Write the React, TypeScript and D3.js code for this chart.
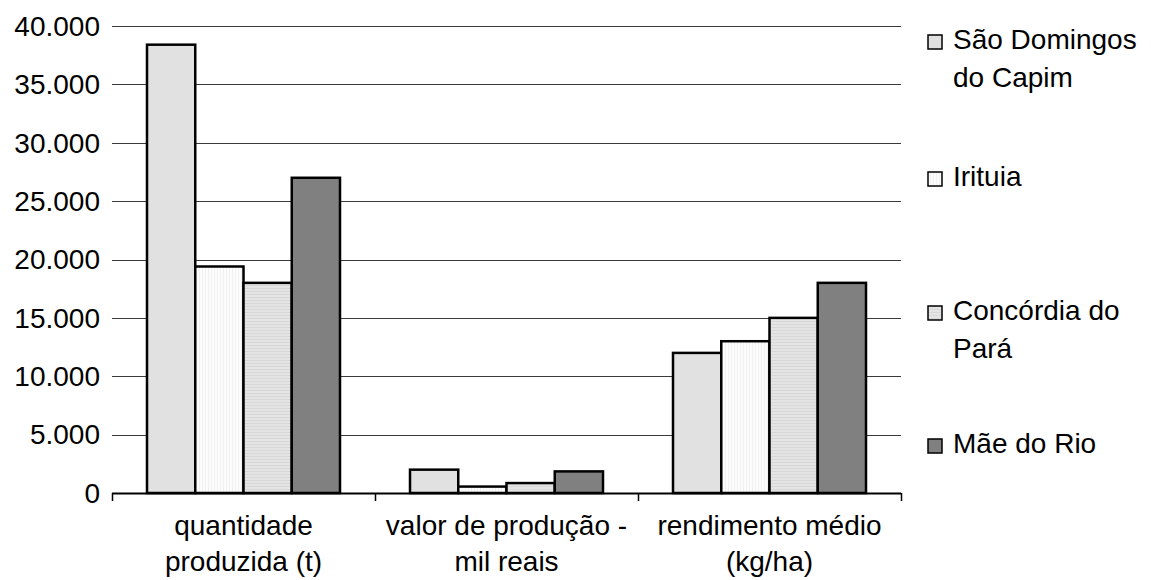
import React from "react";
import * as d3 from "d3";

// categories and series
const categories = [
  ["quantidade", "produzida (t)"],
  ["valor de produção -", "mil reais"],
  ["rendimento médio", "(kg/ha)"],
];
const seriesNames = [
  ["São Domingos", "do Capim"],
  ["Irituia"],
  ["Concórdia do", "Pará"],
  ["Mãe do Rio"],
];
const saoDomingos = [38400, 2000, 12000];
const irituia = [19400, 550, 13000];
const concordia = [18000, 850, 15000];
const maeDoRio = [27000, 1850, 18000];
const yTicks = [0, 5000, 10000, 15000, 20000, 25000, 30000, 35000, 40000];

const seriesValues = [saoDomingos, irituia, concordia, maeDoRio];
const fills = ["#e1e1e1", "url(#pat-irituia)", "url(#pat-concordia)", "#808080"];
const legendBaselines = [49, 186, 320, 453];

const W = 1151;
const H = 580;
const margin = { top: 26, right: 250, bottom: 87, left: 112 };
const FONT = "'Liberation Sans', Arial, Helvetica, sans-serif";

export default function App() {
  const plotRight = W - margin.right;
  const plotBottom = H - margin.bottom;

  const x0 = d3
    .scaleBand<number>()
    .domain(d3.range(categories.length))
    .range([margin.left, plotRight])
    .padding(0);

  const x1 = d3
    .scaleBand<number>()
    .domain(d3.range(seriesValues.length))
    .range([35, x0.bandwidth() - 35])
    .padding(0);

  const y = d3
    .scaleLinear()
    .domain([0, 40000])
    .range([plotBottom, margin.top]);

  const fmt = (v: number) => d3.format(",")(v).replace(/,/g, ".");
  const boundaries = d3.range(categories.length + 1).map((i) =>
    i < categories.length ? x0(i)! : x0(i - 1)! + x0.bandwidth()
  );

  return (
    <svg
      width={W}
      height={H}
      style={{ position: "absolute", left: 0, top: 0, background: "#fff" }}
      fontFamily={FONT}
    >
      <defs>
        <pattern id="pat-irituia" width="3" height="3" patternUnits="userSpaceOnUse">
          <rect width="3" height="3" fill="#fcfcfc" />
          <rect width="1" height="3" fill="#f1f1f1" />
        </pattern>
        <pattern id="pat-concordia" width="3" height="3" patternUnits="userSpaceOnUse">
          <rect width="3" height="3" fill="#e4e4e4" />
          <rect width="3" height="1" fill="#d8d8d8" />
        </pattern>
      </defs>

      {/* gridlines */}
      {yTicks.slice(1).map((t) => (
        <line
          key={t}
          x1={margin.left}
          x2={plotRight}
          y1={Math.round(y(t)) + 0.5}
          y2={Math.round(y(t)) + 0.5}
          stroke="#3a3a3a"
          strokeWidth={1}
        />
      ))}

      {/* y labels */}
      {yTicks.map((t) => (
        <text
          key={t}
          x={margin.left - 12}
          y={y(t)}
          dy="0.35em"
          textAnchor="end"
          fontSize={28}
          fill="#000"
        >
          {fmt(t)}
        </text>
      ))}

      {/* bars */}
      {categories.map((_, ci) => (
        <g key={ci} transform={`translate(${x0(ci)},0)`}>
          {seriesValues.map((vals, si) => (
            <rect
              key={si}
              x={x1(si)}
              y={y(vals[ci])}
              width={x1.bandwidth()}
              height={plotBottom - y(vals[ci])}
              fill={fills[si]}
              stroke="#000"
              strokeWidth={2.5}
            />
          ))}
        </g>
      ))}

      {/* x axis */}
      <line
        x1={margin.left}
        x2={plotRight}
        y1={plotBottom + 0.5}
        y2={plotBottom + 0.5}
        stroke="#000"
        strokeWidth={2}
      />
      {boundaries.map((bx, i) => (
        <line
          key={i}
          x1={Math.round(bx) + 0.5}
          x2={Math.round(bx) + 0.5}
          y1={plotBottom}
          y2={plotBottom + 8}
          stroke="#000"
          strokeWidth={1.5}
        />
      ))}

      {/* category labels */}
      {categories.map((lines, ci) => (
        <text
          key={ci}
          x={x0(ci)! + x0.bandwidth() / 2}
          textAnchor="middle"
          fontSize={28}
          fill="#000"
        >
          {lines.map((l, li) => (
            <tspan key={li} x={x0(ci)! + x0.bandwidth() / 2} y={plotBottom + 42 + li * 36}>
              {l}
            </tspan>
          ))}
        </text>
      ))}

      {/* legend */}
      {seriesNames.map((lines, si) => {
        const base = legendBaselines[si];
        return (
          <g key={si}>
            <rect
              x={928}
              y={base - 14}
              width={14}
              height={14}
              fill={fills[si]}
              stroke="#000"
              strokeWidth={1.5}
            />
            <text fontSize={28} fill="#000">
              {lines.map((l, li) => (
                <tspan key={li} x={953} y={base + li * 38}>
                  {l}
                </tspan>
              ))}
            </text>
          </g>
        );
      })}
    </svg>
  );
}
